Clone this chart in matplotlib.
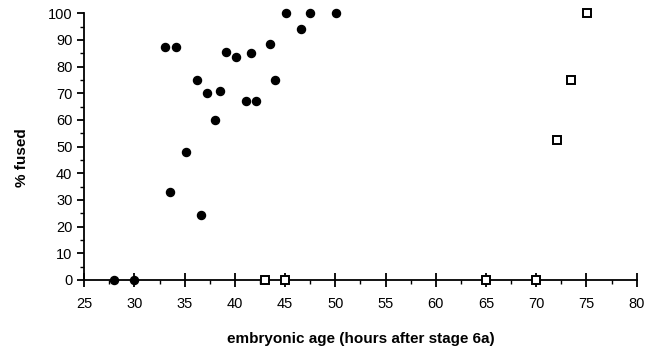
import numpy as np
import matplotlib.pyplot as plt
from matplotlib.ticker import MultipleLocator

plt.rcParams['font.family'] = ['Liberation Sans', 'DejaVu Sans']

# filled circles
dot_age = [28.0, 30.0, 33.0, 34.1, 33.5, 35.1, 36.2, 36.6, 37.2, 38.0, 38.5,
           39.1, 40.1, 41.1, 41.6, 42.1, 43.5, 44.0, 45.1, 46.6, 47.5, 50.1]
dot_fused = [0, 0, 87.5, 87.5, 33, 48, 75, 24.5, 70, 60, 71,
             85.5, 83.5, 67, 85, 67, 88.5, 75, 100, 94, 100, 100]

# open squares
sq_age = [43.0, 45.0, 65.0, 70.0, 72.1, 73.5, 75.1]
sq_fused = [0, 0, 0, 0, 52.5, 75, 100]

fig = plt.figure(figsize=(6.53, 3.49), dpi=100)
ax = fig.add_axes([0.129, 0.198, 0.846, 0.764])

ax.plot(dot_age, dot_fused, 'o', color='black', markersize=5.8, clip_on=False, zorder=3)
ax.plot(sq_age, sq_fused, 's', markerfacecolor='white', markeredgecolor='black',
        markersize=5.2, markeredgewidth=1.4, clip_on=False, zorder=3)

ax.set_xlim(25, 80)
ax.set_ylim(0, 100)
ax.xaxis.set_major_locator(MultipleLocator(5))
ax.xaxis.set_minor_locator(MultipleLocator(2.5))
ax.yaxis.set_major_locator(MultipleLocator(10))
ax.yaxis.set_minor_locator(MultipleLocator(5))

for s in ['top', 'right']:
    ax.spines[s].set_visible(False)
for s in ['left', 'bottom']:
    ax.spines[s].set_linewidth(1.3)

ax.tick_params(which='major', length=5, width=1.3, labelsize=10.5, direction='out')
ax.tick_params(which='minor', length=3, width=1.0, direction='out')
ax.tick_params(axis='x', which='major', direction='inout', length=10, pad=7)

ax.set_xlabel('embryonic age (hours after stage 6a)', fontsize=11, fontweight='bold')
ax.set_ylabel('% fused', fontsize=11, fontweight='bold')
ax.xaxis.set_label_coords(0.5, -0.195)
ax.yaxis.set_label_coords(-0.100, 0.46)

fig.savefig('out.png', dpi=100)
